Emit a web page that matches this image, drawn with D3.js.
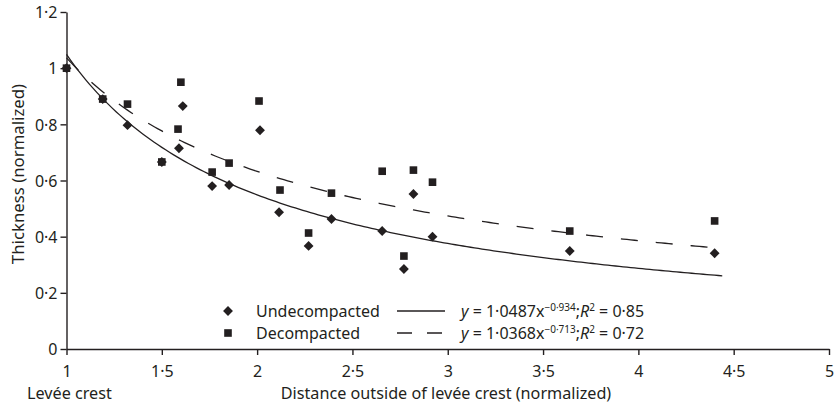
<!DOCTYPE html>
<html>
<head>
<meta charset="utf-8">
<script src="https://cdn.jsdelivr.net/npm/d3@7"></script>
<style>
body { margin: 0; background: #fff; }
text { font-family: "Noto Sans", sans-serif; fill: #231f20; }
.axis path, .axis line { stroke: #231f20; stroke-width: 1.4; }
</style>
</head>
<body>
<svg id="chart" width="834" height="405"></svg>
<script>
// points
const undecompacted = [
    [1.00, 1.00], [1.19, 0.89], [1.32, 0.797], [1.50, 0.666], [1.59, 0.715],
    [1.61, 0.865], [1.764, 0.58], [1.853, 0.584], [2.015, 0.779], [2.115, 0.487],
    [2.27, 0.367], [2.39, 0.463], [2.656, 0.42], [2.77, 0.285], [2.82, 0.552],
    [2.92, 0.40], [3.64, 0.349], [4.40, 0.341]
]
const decompacted = [
    [1.00, 1.00], [1.19, 0.89], [1.32, 0.872], [1.50, 0.666], [1.585, 0.783],
    [1.60, 0.95], [1.764, 0.63], [1.853, 0.662], [2.01, 0.883], [2.12, 0.566],
    [2.27, 0.413], [2.39, 0.555], [2.656, 0.633], [2.77, 0.331], [2.82, 0.637],
    [2.92, 0.594], [3.64, 0.42], [4.40, 0.456]
]

// power-law fits given in the legend: y = a * x^b
const fitUndecompacted = { a: 1.0487, b: -0.934, r2: "0·85" }
const fitDecompacted = { a: 1.0368, b: -0.713, r2: "0·72" }
const fitRange = [1, 4.45]

const xTicks = [1, 1.5, 2, 2.5, 3, 3.5, 4, 4.5, 5]
const yTicks = [0, 0.2, 0.4, 0.6, 0.8, 1, 1.2]

const svg = d3.select("#chart")
const x = d3.scaleLinear().domain([1, 5]).range([66.5, 829])
const y = d3.scaleLinear().domain([0, 1.2]).range([349, 12])
const fmt = d => String(d).replace(".", "\u00B7")

svg.append("g").attr("class", "axis").attr("transform", "translate(0,349)")
    .call(d3.axisBottom(x).tickValues(xTicks).tickSize(6).tickSizeOuter(0).tickFormat(fmt))
    .call(g => g.selectAll("text").attr("font-size", 16).attr("y", 28).attr("dy", 0))
svg.append("g").attr("class", "axis").attr("transform", "translate(66.5,0)")
    .call(d3.axisLeft(y).tickValues(yTicks).tickSize(6).tickSizeOuter(0).tickFormat(fmt))
    .call(g => g.selectAll("text").attr("font-size", 16).attr("dy", "0.36em"))
svg.selectAll(".axis").attr("font-family", null)

svg.append("text").attr("x", 27).attr("y", 399).attr("font-size", 16.2).text("Levée crest")
svg.append("text").attr("x", 446).attr("y", 399).attr("text-anchor", "middle").attr("font-size", 16.2)
    .text("Distance outside of levée crest (normalized)")
svg.append("text").attr("transform", "translate(24,174) rotate(-90)").attr("text-anchor", "middle")
    .attr("font-size", 16.8).text("Thickness (normalized)")

// fit curves
function curve(fit) {
    const xs = d3.range(fitRange[0], fitRange[1] + 0.001, 0.02)
    return d3.line().x(d => x(d)).y(d => y(fit.a * Math.pow(d, fit.b)))(xs)
}
svg.append("path").attr("d", curve(fitUndecompacted)).attr("fill", "none")
    .attr("stroke", "#231f20").attr("stroke-width", 1.3)
svg.append("path").attr("d", curve(fitDecompacted)).attr("fill", "none")
    .attr("stroke", "#231f20").attr("stroke-width", 1.3).attr("stroke-dasharray", "17,18")

const diamond = d3.symbol().type(d3.symbolDiamond2).size(62)
const square = d3.symbol().type(d3.symbolSquare).size(58)

svg.selectAll(".und").data(undecompacted).enter().append("path").attr("class", "und")
    .attr("d", diamond).attr("transform", d => `translate(${x(d[0])},${y(d[1])})`).attr("fill", "#231f20")
svg.selectAll(".dec").data(decompacted).enter().append("path").attr("class", "dec")
    .attr("d", square).attr("transform", d => `translate(${x(d[0])},${y(d[1])})`).attr("fill", "#231f20")

// legend
const legend = [
    { name: "Undecompacted", sym: diamond, dash: null, fit: fitUndecompacted, y: 311 },
    { name: "Decompacted", sym: square, dash: "15,15", fit: fitDecompacted, y: 333 }
]
legend.forEach(l => {
    svg.append("path").attr("d", l.sym).attr("transform", `translate(228,${l.y})`).attr("fill", "#231f20")
    svg.append("text").attr("x", 256).attr("y", l.y + 5.5).attr("font-size", 16).text(l.name)
    svg.append("line").attr("x1", 397).attr("x2", 445).attr("y1", l.y).attr("y2", l.y)
        .attr("stroke", "#231f20").attr("stroke-width", 1.3).attr("stroke-dasharray", l.dash)
    const t = svg.append("text").attr("x", 461).attr("y", l.y + 5.5).attr("font-size", 16)
    t.append("tspan").attr("font-style", "italic").text("y")
    t.append("tspan").text(" = " + fmt(l.fit.a) + "x")
    t.append("tspan").attr("font-size", 10).attr("dy", -6).text("\u2212" + fmt(-l.fit.b))
    t.append("tspan").attr("dy", 6).text(";")
    t.append("tspan").attr("font-style", "italic").text("R")
    t.append("tspan").attr("font-size", 10).attr("dy", -6).text("2")
    t.append("tspan").attr("dy", 6).text(" = " + l.fit.r2)
})
</script>
</body>
</html>
